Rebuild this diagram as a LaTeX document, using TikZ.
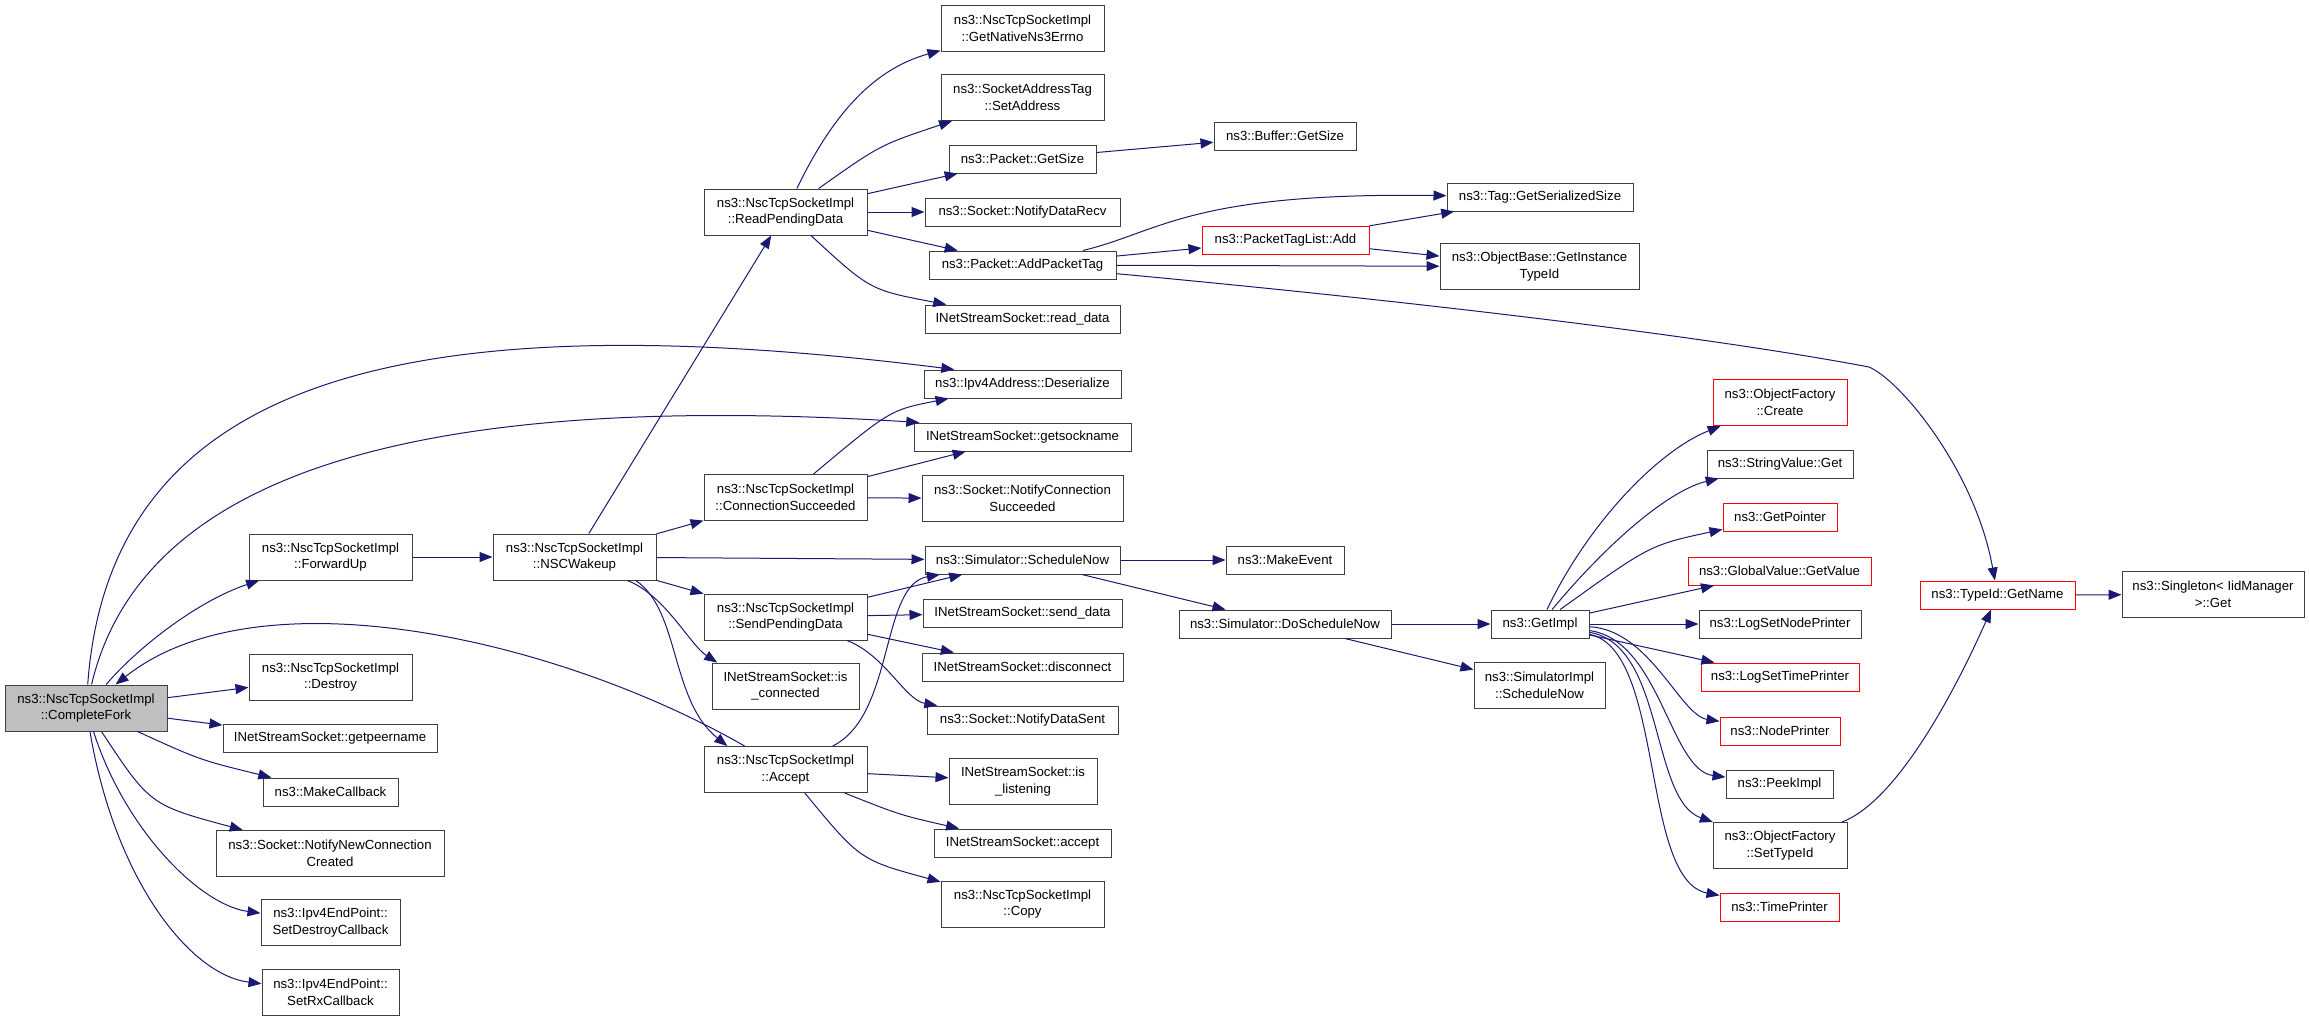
\documentclass[tikz,border=0pt]{standalone}
\usepackage{fontspec}
\setmainfont{Liberation Sans}
\usetikzlibrary{arrows.meta}
\definecolor{callblue}{HTML}{191970}
\definecolor{boxline}{HTML}{404040}
\definecolor{truncred}{HTML}{FF0000}
\definecolor{rootgray}{HTML}{BFBFBF}
\newcommand{\fnsize}{\fontsize{13.2}{16.6}\selectfont}
\begin{document}
\begin{tikzpicture}[x=1pt,y=-1pt,
  func/.style={draw=boxline,line width=1pt,fill=white,inner sep=0pt,align=center,minimum height=28pt,font=\fnsize},
  twoline/.style={minimum height=46pt},
  trunc/.style={draw=truncred},
  rootfn/.style={fill=rootgray},
  call/.style={draw=callblue,line width=1pt,-{Triangle[length=13pt,width=10pt]}}]
  \useasboundingbox (0,0) rectangle (2309,1020);
  \node (cf) [func,twoline,rootfn,minimum width=162pt] at (86,708) {ns3::NscTcpSocketImpl\\::CompleteFork};
  \node (fwd) [func,twoline,minimum width=163pt] at (330.5,557) {ns3::NscTcpSocketImpl\\::ForwardUp};
  \node (nsc) [func,twoline,minimum width=163pt] at (574.5,557) {ns3::NscTcpSocketImpl\\::NSCWakeup};
  \node (destroy) [func,twoline,minimum width=163pt] at (330.5,677) {ns3::NscTcpSocketImpl\\::Destroy};
  \node (peer) [func,minimum width=214pt] at (330,738.5) {INetStreamSocket::getpeername};
  \node (mkcb) [func,minimum width=135pt] at (330.5,792) {ns3::MakeCallback};
  \node (nncc) [func,twoline,minimum width=228pt] at (330,853.5) {ns3::Socket::NotifyNewConnection\\Created};
  \node (sdcb) [func,twoline,minimum width=139pt] at (330.5,922.5) {ns3::Ipv4EndPoint::\\SetDestroyCallback};
  \node (srx) [func,twoline,minimum width=137pt] at (330.5,992) {ns3::Ipv4EndPoint::\\SetRxCallback};
  \node (rpd) [func,twoline,minimum width=163pt] at (785.5,212) {ns3::NscTcpSocketImpl\\::ReadPendingData};
  \node (cs) [func,twoline,minimum width=163pt] at (785.5,497.5) {ns3::NscTcpSocketImpl\\::ConnectionSucceeded};
  \node (spd) [func,twoline,minimum width=163pt] at (785.5,617) {ns3::NscTcpSocketImpl\\::SendPendingData};
  \node (isc) [func,twoline,minimum width=147pt] at (785.5,686) {INetStreamSocket::is\\\_connected};
  \node (acc) [func,twoline,minimum width=163pt] at (785.5,769.5) {ns3::NscTcpSocketImpl\\::Accept};
  \node (errno) [func,twoline,minimum width=163pt] at (1022.5,28) {ns3::NscTcpSocketImpl\\::GetNativeNs3Errno};
  \node (setaddr) [func,twoline,minimum width=163pt] at (1022.5,97.5) {ns3::SocketAddressTag\\::SetAddress};
  \node (pgs) [func,minimum width=147pt] at (1022.5,159) {ns3::Packet::GetSize};
  \node (ndr) [func,minimum width=195pt] at (1022.5,212) {ns3::Socket::NotifyDataRecv};
  \node (apt) [func,minimum width=187pt] at (1022.5,265) {ns3::Packet::AddPacketTag};
  \node (rd) [func,minimum width=195pt] at (1022.5,319) {INetStreamSocket::read\_data};
  \node (deser) [func,minimum width=197pt] at (1022.5,384) {ns3::Ipv4Address::Deserialize};
  \node (gsn) [func,minimum width=217pt] at (1022.5,437) {INetStreamSocket::getsockname};
  \node (ncs) [func,twoline,minimum width=201pt] at (1022.5,498.5) {ns3::Socket::NotifyConnection\\Succeeded};
  \node (sn) [func,minimum width=195pt] at (1022.5,560) {ns3::Simulator::ScheduleNow};
  \node (sd) [func,minimum width=199pt] at (1022.5,613) {INetStreamSocket::send\_data};
  \node (disc) [func,minimum width=201pt] at (1022.5,667) {INetStreamSocket::disconnect};
  \node (nds) [func,minimum width=191pt] at (1022.5,720) {ns3::Socket::NotifyDataSent};
  \node (isl) [func,twoline,minimum width=148pt] at (1023,781.5) {INetStreamSocket::is\\\_listening};
  \node (accl) [func,minimum width=177pt] at (1022.5,843) {INetStreamSocket::accept};
  \node (copy) [func,twoline,minimum width=163pt] at (1022.5,904) {ns3::NscTcpSocketImpl\\::Copy};
  \node (bgs) [func,minimum width=142pt] at (1285,136) {ns3::Buffer::GetSize};
  \node (ptl) [func,trunc,minimum width=167pt] at (1285.5,240) {ns3::PacketTagList::Add};
  \node (mev) [func,minimum width=118pt] at (1285,560) {ns3::MakeEvent};
  \node (dsn) [func,minimum width=212pt] at (1285,624) {ns3::Simulator::DoScheduleNow};
  \node (tgs) [func,minimum width=186pt] at (1540,197) {ns3::Tag::GetSerializedSize};
  \node (obi) [func,twoline,minimum width=199pt] at (1539.5,266.5) {ns3::ObjectBase::GetInstance\\TypeId};
  \node (gimpl) [func,minimum width=98pt] at (1540,624) {ns3::GetImpl};
  \node (simsn) [func,twoline,minimum width=131pt] at (1539.5,685.5) {ns3::SimulatorImpl\\::ScheduleNow};
  \node (ofc) [func,twoline,trunc,minimum width=134pt] at (1780,402.5) {ns3::ObjectFactory\\::Create};
  \node (svg) [func,minimum width=146pt] at (1780,464) {ns3::StringValue::Get};
  \node (gptr) [func,trunc,minimum width=114pt] at (1780,517) {ns3::GetPointer};
  \node (gvv) [func,trunc,minimum width=183pt] at (1779.5,571) {ns3::GlobalValue::GetValue};
  \node (lsnp) [func,minimum width=162pt] at (1780,624) {ns3::LogSetNodePrinter};
  \node (lstp) [func,trunc,minimum width=158pt] at (1780,677) {ns3::LogSetTimePrinter};
  \node (np) [func,trunc,minimum width=120pt] at (1780,731) {ns3::NodePrinter};
  \node (pkimpl) [func,minimum width=107pt] at (1779.5,784) {ns3::PeekImpl};
  \node (ofst) [func,twoline,minimum width=134pt] at (1780,845.5) {ns3::ObjectFactory\\::SetTypeId};
  \node (tp) [func,trunc,minimum width=119pt] at (1779.5,907) {ns3::TimePrinter};
  \node (tgn) [func,trunc,minimum width=155pt] at (1997.5,595) {ns3::TypeId::GetName};
  \node (sgl) [func,twoline,minimum width=182pt] at (2213,594.5) {ns3::Singleton< IidManager\\>::Get};
  \draw[call] (cf) .. controls (140,645) and (200,600) .. (fwd);
  \draw[call] (cf) -- (destroy);
  \draw[call] (cf) -- (peer);
  \draw[call] (cf) .. controls (200,760) .. (mkcb);
  \draw[call] (cf) .. controls (150,805) .. (nncc);
  \draw[call] (cf) .. controls (125,830) and (200,905) .. (sdcb);
  \draw[call] (cf) .. controls (115,880) and (190,975) .. (srx);
  \draw[call] (cf) .. controls (110,380) and (400,300) .. (deser.168);
  \draw[call] (cf) .. controls (140,480) and (400,390) .. (gsn.172);
  \draw[call] (acc) .. controls (560,640) and (260,570) .. (cf);
  \draw[call] (fwd) -- (nsc);
  \draw[call] (nsc) -- (rpd);
  \draw[call] (nsc) -- (cs);
  \draw[call] (nsc) -- (sn);
  \draw[call] (nsc) -- (spd);
  \draw[call] (nsc.-24) .. controls (665,595) and (690,645) .. (isc.161);
  \draw[call] (nsc.-21) .. controls (680,610) and (670,700) .. (acc.158);
  \draw[call] (rpd) .. controls (830,120) and (870,70) .. (errno);
  \draw[call] (rpd) .. controls (880,145) .. (setaddr);
  \draw[call] (rpd) -- (pgs);
  \draw[call] (rpd) -- (ndr);
  \draw[call] (rpd) -- (apt);
  \draw[call] (rpd) .. controls (870,290) .. (rd);
  \draw[call] (cs) .. controls (890,410) .. (deser);
  \draw[call] (cs) -- (gsn);
  \draw[call] (cs) -- (ncs);
  \draw[call] (spd) -- (sn);
  \draw[call] (spd) -- (sd);
  \draw[call] (spd) -- (disc);
  \draw[call] (spd) .. controls (885,655) and (905,700) .. (nds);
  \draw[call] (acc) .. controls (895,715) and (880,585) .. (sn);
  \draw[call] (acc) -- (isl);
  \draw[call] (acc) .. controls (900,815) .. (accl);
  \draw[call] (acc) .. controls (860,860) .. (copy);
  \draw[call] (pgs) -- (bgs);
  \draw[call] (apt) .. controls (1160,232) and (1190,192) .. (tgs);
  \draw[call] (apt) -- (ptl);
  \draw[call] (apt) -- (obi);
  \draw[call] (apt) .. controls (1400,300) and (1700,335) .. (1869,367) .. controls (1900,380) and (1975,470) .. (tgn);
  \draw[call] (ptl) -- (tgs);
  \draw[call] (ptl) -- (obi);
  \draw[call] (sn) -- (mev);
  \draw[call] (sn) -- (dsn);
  \draw[call] (dsn) -- (gimpl);
  \draw[call] (dsn) -- (simsn);
  \draw[call] (gimpl) .. controls (1590,520) and (1660,450) .. (ofc);
  \draw[call] (gimpl) .. controls (1610,540) and (1670,490) .. (svg);
  \draw[call] (gimpl) .. controls (1650,545) .. (gptr);
  \draw[call] (gimpl) -- (gvv);
  \draw[call] (gimpl) -- (lsnp);
  \draw[call] (gimpl) -- (lstp);
  \draw[call] (gimpl) .. controls (1650,630) and (1680,715) .. (np);
  \draw[call] (gimpl) .. controls (1660,640) and (1670,770) .. (pkimpl);
  \draw[call] (gimpl) .. controls (1665,645) and (1650,800) .. (ofst);
  \draw[call] (gimpl) .. controls (1665,650) and (1640,880) .. (tp);
  \draw[call] (ofst) .. controls (1900,800) and (1960,680) .. (tgn);
  \draw[call] (tgn) -- (sgl);
\end{tikzpicture}
\end{document}
